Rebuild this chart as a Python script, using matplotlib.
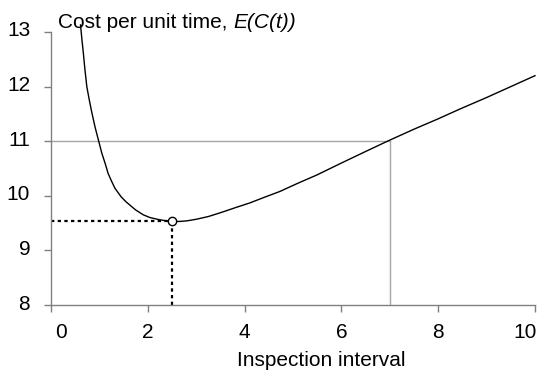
import matplotlib
matplotlib.use("Agg")
import matplotlib.pyplot as plt
import matplotlib.transforms as mtransforms

plt.rcParams['font.family'] = ['Liberation Sans', 'DejaVu Sans']

# curve data
interval = [0.61, 0.64, 0.67, 0.70, 0.74, 0.79, 0.84, 0.91, 0.98, 1.05, 1.12, 1.18, 1.25,
            1.32, 1.45, 1.55, 1.63, 1.75, 1.91, 2.05, 2.25, 2.40, 2.51, 2.65, 2.80, 3.00,
            3.25, 3.50, 3.80, 4.11, 4.40, 4.73, 5.10, 5.49, 6.00, 6.52, 7.00, 7.50, 8.00,
            8.45, 9.00, 9.50, 10.0]
cost = [13.13, 12.85, 12.60, 12.32, 12.00, 11.76, 11.54, 11.26, 11.02, 10.78, 10.59, 10.41, 10.27,
        10.14, 9.98, 9.89, 9.83, 9.74, 9.65, 9.60, 9.56, 9.54, 9.53, 9.53, 9.54, 9.57,
        9.62, 9.69, 9.78, 9.87, 9.97, 10.08, 10.23, 10.38, 10.60, 10.82, 11.02, 11.22, 11.41,
        11.59, 11.80, 12.00, 12.20]

opt_x, opt_y = 2.51, 9.53
ref_x, ref_y = 7.0, 11.0

xticks = [0, 2, 4, 6, 8, 10]
yticks = [8, 9, 10, 11, 12, 13]

FS = 15

fig = plt.figure(figsize=(5.39, 3.70), dpi=100)
ax = fig.add_axes([51/539, 65/370, 484/539, 273/370])

ax.plot(interval, cost, color='black', lw=1.0, zorder=3, clip_on=False)
ax.plot([0, ref_x], [ref_y, ref_y], color='#a6a6a6', lw=1.0, zorder=2)
ax.plot([ref_x, ref_x], [8, ref_y], color='#a6a6a6', lw=1.0, zorder=2)
ax.plot([0, opt_x], [opt_y, opt_y], color='black', lw=1.6, ls=(0, (1.5, 1.5)), zorder=2)
ax.plot([opt_x, opt_x], [8, opt_y], color='black', lw=1.6, ls=(0, (1.5, 1.5)), zorder=2)
ax.plot([opt_x], [opt_y], marker='o', ms=6, mfc='white', mec='black', mew=1.0, zorder=4)

ax.set_xlim(0, 10)
ax.set_ylim(8, 13)
ax.set_xticks(xticks)
ax.set_yticks(yticks)
ax.tick_params(direction='out', length=5, width=1, color='#808080', labelsize=FS)
ax.tick_params(axis='y', pad=10)
ax.tick_params(axis='x', pad=8)
for s in ['top', 'right']:
    ax.spines[s].set_visible(False)
for s in ['left', 'bottom']:
    ax.spines[s].set_color('#808080')
    ax.spines[s].set_linewidth(1.0)
ax.patch.set_alpha(0)

# shift first and last x labels inward, as in the reference
xl = ax.get_xticklabels()
xl[0].set_transform(xl[0].get_transform() + mtransforms.ScaledTranslation(10/100, 0, fig.dpi_scale_trans))
xl[-1].set_transform(xl[-1].get_transform() + mtransforms.ScaledTranslation(-10/100, 0, fig.dpi_scale_trans))
# y labels slightly raised
for lab in ax.get_yticklabels():
    lab.set_transform(lab.get_transform() + mtransforms.ScaledTranslation(0, 3/100, fig.dpi_scale_trans))

fig.text(321/539, 1 - 366/370, 'Inspection interval', ha='center', va='baseline', fontsize=FS)
t1 = fig.text(58/539, 1 - 27.5/370, 'Cost per unit time, ', ha='left', va='baseline', fontsize=FS)
fig.canvas.draw()
bb = t1.get_window_extent()
fig.text(bb.x1 / fig.bbox.width, 1 - 27.5/370, 'E(C(t))', ha='left', va='baseline',
         fontsize=FS, style='italic')

fig.savefig('out.png', dpi=100)
